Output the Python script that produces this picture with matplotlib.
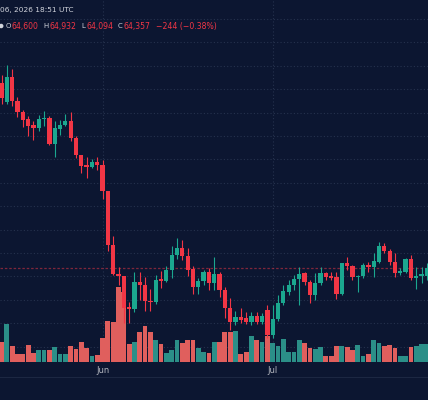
import matplotlib
matplotlib.use("Agg")
import matplotlib.pyplot as plt
import matplotlib.transforms as mtransforms
from matplotlib.patches import Ellipse
import numpy as np

# -----------------------------
# Daily candles (price in USD)
# -----------------------------
opens = [72250, 71440, 72530, 71500, 71040, 70710, 70460, 70350, 70710, 70760,
         69660, 70300, 70460, 70630, 69910, 69170, 68760, 68690, 68880, 68770,
         67640, 65340, 64120, 64020, 62690, 62590, 63760, 63630, 62960, 62890,
         63890, 63820, 64270, 64910, 65200, 64870, 64300, 63560, 63820, 64200,
         63710, 64100, 63440, 62650, 62070, 62250, 62240, 62070, 62310, 62070,
         62560, 61500, 62170, 62880, 63350, 63630, 63880, 64130, 63750, 63210,
         63710, 64160, 64020, 63960, 63250, 64560, 64440, 63990, 64020, 64490,
         64410, 64630, 65300, 65090, 64600, 64130, 64200, 64730, 63940, 64020,
         64020]
highs = [72610, 73030, 72860, 71680, 71110, 70850, 70650, 70900, 71080, 70850,
         70650, 70680, 70940, 71030, 70020, 69200, 69100, 69020, 69090, 68970,
         67650, 65730, 64420, 64030, 62920, 64200, 64200, 63970, 63460, 64060,
         64230, 64460, 65310, 65650, 65560, 65200, 64460, 63940, 64270, 64350,
         64840, 64200, 63560, 63060, 62520, 62640, 62500, 62500, 62500, 62440,
         62780, 62780, 63210, 63630, 63850, 64060, 64410, 64200, 63850, 64130,
         64410, 64200, 64200, 64200, 64590, 64820, 64490, 64060, 64560, 64630,
         64990, 65480, 65410, 65160, 64990, 64350, 64770, 64910, 64410, 64410,
         64570]
lows = [71370, 71370, 71300, 70830, 70370, 70000, 69830, 70210, 70430, 69620,
        69090, 70040, 70430, 69800, 69080, 68420, 68190, 68620, 68550, 67300,
        65090, 64060, 63630, 62000, 62000, 62480, 62990, 62520, 62520, 62820,
        63490, 63770, 63940, 64740, 64710, 64030, 63240, 63240, 63630, 63420,
        63420, 63120, 62220, 61710, 61920, 62010, 61970, 61920, 61970, 61970,
        61370, 61370, 62090, 62780, 63210, 63420, 62780, 63630, 62880, 62990,
        63630, 63850, 63850, 63020, 63210, 64270, 63850, 63350, 63930, 64200,
        63960, 64570, 65000, 64490, 63960, 64060, 64150, 63850, 63450, 63710,
        63850]
closes = [71640, 72530, 71500, 71040, 70680, 70440, 70350, 70730, 70770, 69660,
          70330, 70470, 70630, 69910, 69170, 68730, 68690, 68880, 68770, 67640,
          65340, 64120, 64000, 62670, 62590, 63770, 63650, 62970, 62890, 63850,
          63800, 64270, 64910, 65200, 64870, 64270, 63560, 63820, 64200, 63710,
          64100, 63440, 62650, 62060, 62250, 62140, 62070, 62310, 62070, 62310,
          61500, 62180, 62880, 63380, 63630, 63880, 64100, 63750, 63210, 63710,
          64160, 63990, 63940, 63250, 64560, 64440, 63990, 64030, 64490, 64410,
          64660, 65300, 65090, 64600, 64130, 64240, 64730, 63940, 64020, 64090,
          64357]
volumes = [20.0, 37.4, 15.4, 7.4, 7.4, 16.7, 8.7, 11.4, 11.4, 11.4,
           14.7, 8.0, 8.0, 16.0, 12.7, 20.0, 14.0, 5.4, 6.7, 24.0,
           40.7, 40.0, 75.0, 69.4, 17.4, 20.0, 29.4, 35.4, 29.4, 22.0,
           18.0, 8.7, 11.4, 22.0, 18.7, 21.4, 21.4, 13.4, 9.4, 8.7,
           19.4, 19.4, 29.4, 29.4, 30.7, 8.0, 9.4, 25.4, 21.4, 19.4,
           25.4, 18.7, 15.4, 22.7, 9.4, 9.4, 21.4, 18.7, 13.4, 12.7,
           14.7, 6.0, 6.0, 15.4, 15.4, 14.7, 12.0, 16.7, 6.0, 7.4,
           21.4, 18.7, 15.4, 16.7, 13.4, 5.4, 6.0, 14.7, 15.4, 17.4,
           17.4]

month_ticks = [19, 51]
month_labels = ["Jun", "Jul"]

header_time = "06, 2026 18:51 UTC"
ohlc_names = ["O", "H", "L", "C"]
ohlc_values = ["64,600", "64,932", "64,094", "64,357"]
change_text = "\u2212244 (\u22120.38%)"
last_price = closes[-1]

# -----------------------------
# Colours
# -----------------------------
BG = "#0c1631"
GRID = "#26324e"
UP = "#1ba78f"
DOWN = "#f23645"
VOL_UP = "#2b8f88"
VOL_DOWN = "#e05f5d"
TEXT = "#d1d4dc"

o = np.array(opens, dtype=float)
h = np.array(highs, dtype=float)
l = np.array(lows, dtype=float)
c = np.array(closes, dtype=float)
x = np.arange(len(o))
up = c >= o

# -----------------------------
# Figure / axes
# -----------------------------
W, H = 428, 400
fig = plt.figure(figsize=(W / 100, H / 100), dpi=100, facecolor=BG)
pane_bottom = 1 - 361.7 / H
ax_v = fig.add_axes([0, pane_bottom, 1, 1 - pane_bottom])
ax_v.set_facecolor(BG)
ax = ax_v.twinx()

ax_v.set_xlim(-0.29, 80.21)
ax.set_ylim(60355, 75812)
ax_v.set_ylim(0, max(volumes) / 0.207)

for a in (ax, ax_v):
    for s in a.spines.values():
        s.set_visible(False)
    a.tick_params(axis="y", left=False, right=False,
                  labelleft=False, labelright=False)

# grid (drawn in the lower axes so it stays behind the volume bars)
trans = mtransforms.blended_transform_factory(ax_v.transAxes, ax.transData)
for p in np.arange(61000, 76000, 1000):
    ax_v.plot([0, 1], [p, p], transform=trans, color=GRID, lw=0.8,
              ls=(0, (1, 2)), zorder=0.5)
for t in month_ticks:
    ax_v.axvline(t, color=GRID, lw=0.8, ls=(0, (1, 2)), zorder=0.5)

# volume
ax_v.bar(x, volumes, width=0.9, color=np.where(up, VOL_UP, VOL_DOWN),
         linewidth=0, zorder=1)

# last price line
ax.axhline(last_price, color=DOWN, alpha=0.5, lw=0.9, ls=(0, (2, 1.5)),
           zorder=1)

# candles
cols = np.where(up, UP, DOWN)
ax.vlines(x, l, h, colors=cols, lw=0.8, zorder=2)
body = np.maximum(np.abs(c - o), 45)
ax.bar(x, body, bottom=np.minimum(o, c), width=0.8, color=cols,
       linewidth=0, zorder=3)

# x axis labels
ax_v.set_xticks(month_ticks, month_labels)
ax_v.tick_params(axis="x", length=0, pad=3, labelsize=6, labelcolor="#b2b5be")

# separator under the time axis
fig.add_artist(plt.Line2D([0, 1], [1 - 377.3 / H] * 2,
                          transform=fig.transFigure, color="#1c2742", lw=0.8))

# -----------------------------
# Header legend
# -----------------------------
fig.text(0.5 / W, 1 - 10 / H, header_time, ha="left", va="center",
         fontsize=5.3, color=TEXT)
# status dot at the left edge (partly cut off, as in the original)
fig.add_artist(Ellipse((1.2 / W, 1 - 26 / H), 4.5 / W, 4.5 / H,
                       transform=fig.transFigure, color=TEXT, lw=0))
name_x = [6.0, 43.2, 81.5, 118.0]
value_x = [12.0, 49.5, 86.5, 124.0]
for nm, nx, val, vx in zip(ohlc_names, name_x, ohlc_values, value_x):
    fig.text(nx / W, 1 - 26 / H, nm, ha="left", va="center",
             fontsize=5.0, color=TEXT)
    fig.text(vx / W, 1 - 26 / H, val, ha="left", va="center",
             fontsize=5.6, color=DOWN)
fig.text(155.5 / W, 1 - 26 / H, change_text, ha="left", va="center",
         fontsize=5.6, color=DOWN)

fig.savefig("out.png", dpi=100, facecolor=BG)
